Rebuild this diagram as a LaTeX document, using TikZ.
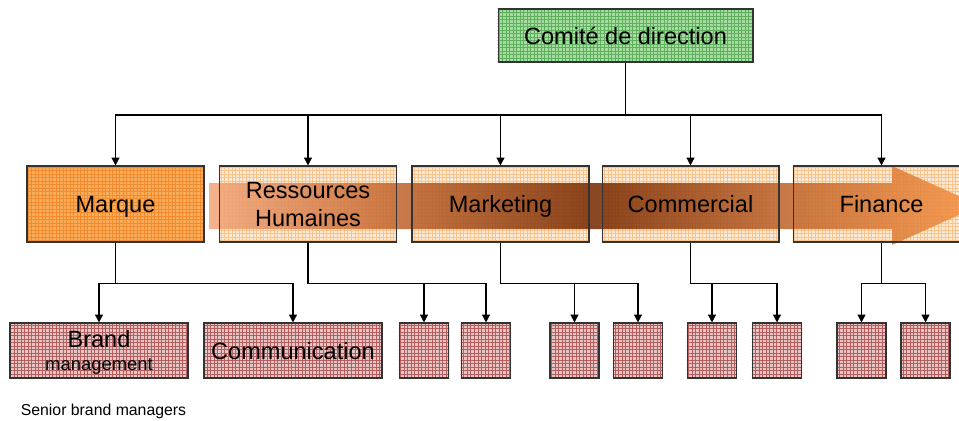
\documentclass[tikz,border=0pt]{standalone}
\usepackage{fontspec}
\setmainfont{Liberation Sans}
\usetikzlibrary{arrows.meta,patterns,backgrounds}
\definecolor{dirgreen}{RGB}{165,220,160}
\definecolor{dirgrid}{RGB}{95,175,95}
\definecolor{marqorange}{RGB}{250,172,90}
\definecolor{marqgrid}{RGB}{240,140,45}
\definecolor{deptpale}{RGB}{254,234,210}
\definecolor{deptgrid}{RGB}{248,195,140}
\definecolor{teamrose}{RGB}{230,196,196}
\definecolor{teamgrid}{RGB}{180,95,95}
\definecolor{bandlight}{RGB}{243,168,125}
\definecolor{bandmid}{RGB}{200,110,55}
\definecolor{banddark}{RGB}{120,45,5}
\definecolor{bandback}{RGB}{185,98,45}
\definecolor{bandend}{RGB}{247,148,70}
\pgfdeclarehorizontalshading{bandshade}{100bp}{color(0bp)=(bandlight); color(25bp)=(bandlight); color(36bp)=(bandmid); color(50bp)=(banddark); color(61bp)=(bandback); color(75bp)=(bandend); color(100bp)=(bandend)}
\pgfdeclarepatternformonly{finegrid}{\pgfqpoint{-1pt}{-1pt}}{\pgfqpoint{3pt}{3pt}}{\pgfqpoint{2pt}{2pt}}
{
  \pgfsetlinewidth{0.45pt}
  \pgfpathmoveto{\pgfqpoint{0pt}{0pt}}
  \pgfpathlineto{\pgfqpoint{0pt}{2.1pt}}
  \pgfpathmoveto{\pgfqpoint{0pt}{0pt}}
  \pgfpathlineto{\pgfqpoint{2.1pt}{0pt}}
  \pgfusepath{stroke}
}

\begin{document}
\begin{tikzpicture}[x=0.02cm,y=-0.02cm,
    box/.style={draw=black!80, line width=0.6pt, inner sep=0pt, align=center,
                text depth=0pt, font=\fontsize{13.4}{16}\selectfont},
    board/.style={box, minimum width=5.1cm, minimum height=1.06cm},
    dept/.style={box, minimum width=3.54cm, minimum height=1.52cm},
    team/.style={box, minimum width=3.56cm, minimum height=1.1cm},
    cell/.style={box, minimum width=0.98cm, minimum height=1.1cm},
    tint/.style 2 args={fill=#1, postaction={pattern=finegrid, pattern color=#2}},
    link/.style={line width=0.75pt, -{Triangle[width=4.5pt,length=4.5pt]}}]
  \useasboundingbox (0,0) rectangle (959,420);
  %Board
  \node[board] (board) at (625.5,35.5) {Comité de direction};
  %Departments
  \node[dept] (marque) at (115.5,204) {Marque};
  \node[dept] (rh) at (308,204) {Ressources\\Humaines};
  \node[dept] (marketing) at (500.5,204) {Marketing};
  \node[dept] (commercial) at (690.5,204) {Commercial};
  \node[dept] (finance) at (881.5,204) {Finance};
  %Teams
  \node[team] (brand) at (99,350.5) {Brand\\[-3pt]{\fontsize{10.5}{12}\selectfont management}};
  \node[team] (comm) at (293,350.5) {Communication};
  \foreach \n/\x in {rhA/424, rhB/486, mkA/574.5, mkB/638, coA/712, coB/777, fiA/861.5, fiB/925.5}
    \node[cell] (\n) at (\x,350.5) {};
  \node[anchor=base west, inner sep=0pt, font=\fontsize{9}{11}\selectfont] (senior) at (20.5,415) {Senior brand managers};
  %Fills and band behind the boxes
  \begin{scope}[on background layer]
    \foreach \n/\c/\g in {board/dirgreen/dirgrid, marque/marqorange/marqgrid,
        rh/deptpale/deptgrid, marketing/deptpale/deptgrid, commercial/deptpale/deptgrid,
        finance/deptpale/deptgrid, brand/teamrose/teamgrid, comm/teamrose/teamgrid,
        rhA/teamrose/teamgrid, rhB/teamrose/teamgrid, mkA/teamrose/teamgrid, mkB/teamrose/teamgrid,
        coA/teamrose/teamgrid, coB/teamrose/teamgrid, fiA/teamrose/teamgrid, fiB/teamrose/teamgrid}
      \fill[tint={\c}{\g}] (\n.south west) rectangle (\n.north east);
    \shade[shading=bandshade, fill opacity=0.88]
      (209,183) -- (892,183) -- (892,166) -- (980,205.5) -- (892,245) -- (892,229) -- (209,229) -- cycle;
  \end{scope}
  %Links from the board
  \coordinate (bus) at (625.5,115);
  \draw[line width=0.75pt] (board.south) -- (bus);
  \foreach \d in {marque,rh,marketing,commercial,finance}
    \draw[link] (bus) -| (\d.north);
  %Links to the teams
  \foreach \d/\t in {marque/brand, marque/comm, rh/rhA, rh/rhB, marketing/mkA, marketing/mkB,
      commercial/coA, commercial/coB, finance/fiA, finance/fiB}
    \draw[link] (\d.south) -- ++(0,41) -| (\t.north);
\end{tikzpicture}
\end{document}
